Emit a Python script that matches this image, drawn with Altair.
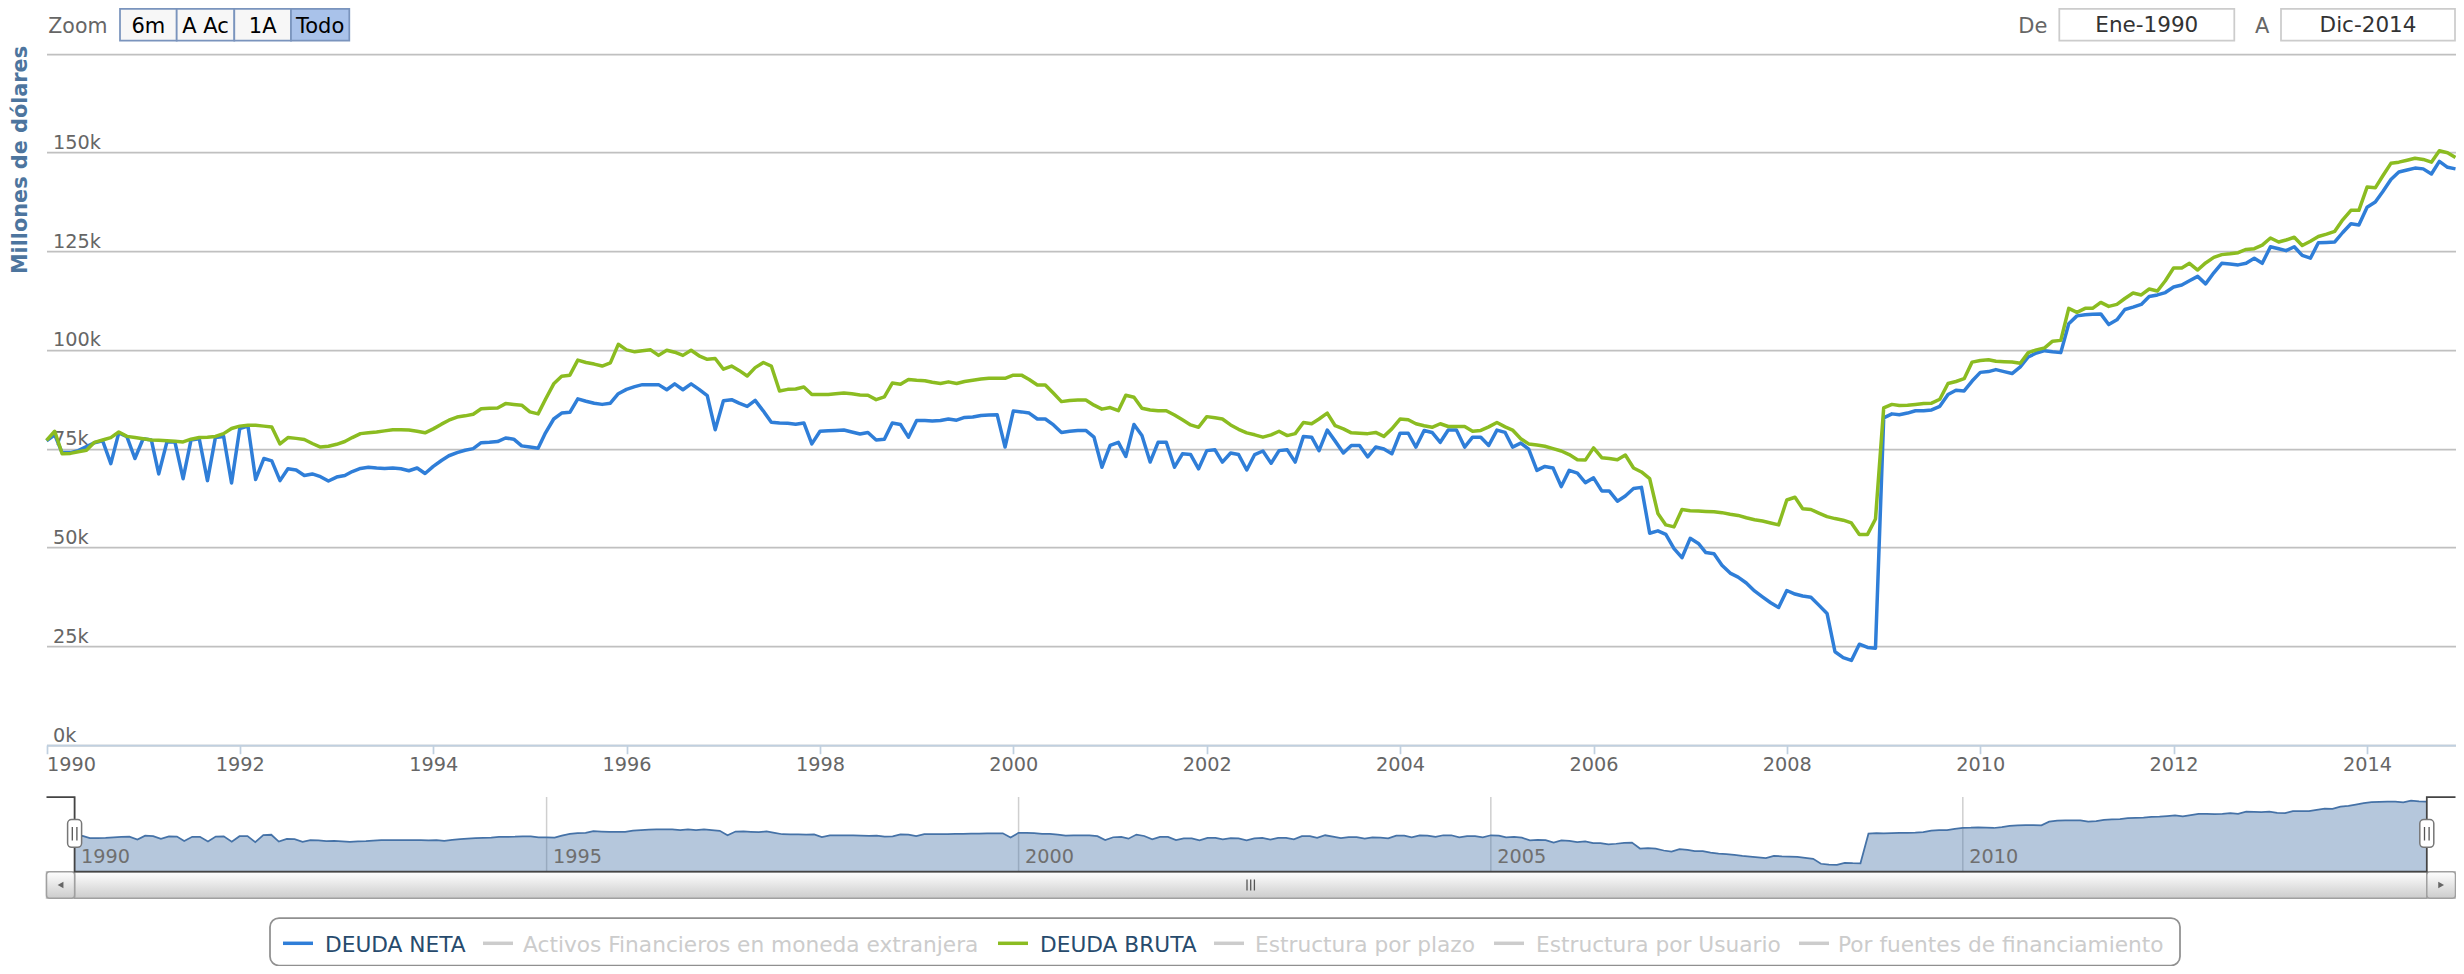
import altair as alt
import pandas as pd

# ---------------- data (miles de millones de dólares, "k") ----------------
inicio = "1990-01-01"
deuda_neta = [
    77.0, 78.5, 74.0, 74.0, 74.5, 75.5, 76.5, 77.0, 71.2, 79.0,
    78.0, 72.5, 77.5, 77.2, 68.6, 76.7, 76.7, 67.4, 77.2, 77.5,
    66.9, 77.8, 78.1, 66.3, 80.1, 80.7, 67.2, 72.5, 71.9, 66.9,
    69.9, 69.6, 68.2, 68.6, 67.9, 66.8, 67.8, 68.2, 69.2, 70.0,
    70.3, 70.1, 70.0, 70.1, 69.9, 69.4, 70.1, 68.7, 70.5, 72.0,
    73.2, 74.0, 74.6, 75.0, 76.5, 76.6, 76.8, 77.7, 77.4, 75.7,
    75.4, 75.1, 79.0, 82.5, 84.0, 84.2, 87.6, 87.0, 86.5, 86.2,
    86.5, 88.9, 90.0, 90.7, 91.2, 91.2, 91.2, 89.9, 91.4, 89.9,
    91.4, 90.0, 88.4, 79.8, 87.1, 87.4, 86.5, 85.7, 87.2, 84.5,
    81.7, 81.5, 81.4, 81.2, 81.5, 76.2, 79.4, 79.5, 79.6, 79.7,
    79.2, 78.7, 79.1, 77.2, 77.4, 81.5, 81.1, 77.9, 82.1, 82.1,
    82.0, 82.1, 82.5, 82.2, 82.9, 83.0, 83.4, 83.5, 83.6, 75.4,
    84.5, 84.3, 84.0, 82.5, 82.5, 81.0, 79.1, 79.4, 79.6, 79.6,
    77.9, 70.3, 75.8, 76.6, 73.0, 81.1, 78.3, 71.6, 76.6, 76.6,
    70.3, 73.7, 73.5, 69.9, 74.5, 74.7, 71.6, 73.9, 73.5, 69.6,
    73.5, 74.4, 71.3, 74.5, 74.7, 71.6, 78.1, 77.9, 74.5, 79.7,
    76.9, 73.9, 75.8, 75.8, 72.9, 75.4, 74.9, 73.7, 78.9, 78.9,
    75.4, 79.6, 79.1, 76.6, 79.7, 79.7, 75.4, 77.9, 77.9, 75.8,
    79.7, 79.1, 75.4, 76.4, 74.9, 69.5, 70.5, 70.1, 65.4, 69.5,
    68.8, 66.4, 67.6, 64.3, 64.3, 61.7, 63.0, 64.9, 65.2, 53.6,
    54.2, 53.3, 49.7, 47.4, 52.3, 51.0, 48.7, 48.4, 45.5, 43.5,
    42.5, 41.0, 39.0, 37.5, 36.0, 34.8, 39.1, 38.2, 37.7, 37.4,
    35.4, 33.3, 23.6, 22.1, 21.4, 25.5, 24.7, 24.5, 82.8, 83.8,
    83.6, 84.0, 84.6, 84.6, 84.8, 85.7, 88.7, 89.8, 89.6, 92.1,
    94.3, 94.5, 95.0, 94.5, 94.0, 95.7, 98.2, 99.2, 99.8, 99.5,
    99.3, 106.6, 108.6, 108.9, 109.0, 109.1, 106.4, 107.6, 110.2, 110.8,
    111.5, 113.5, 113.9, 114.5, 115.9, 116.4, 117.5, 118.6, 116.7, 119.5,
    121.9, 121.7, 121.5, 121.9, 123.2, 121.9, 126.1, 125.6, 125.1, 126.1,
    123.9, 123.2, 127.1, 127.2, 127.3, 129.7, 131.9, 131.6, 136.1, 137.4,
    140.0, 143.1, 145.0, 145.5, 146.0, 145.8, 144.5, 147.7, 146.2, 145.8,
]
deuda_bruta = [
    77.1, 79.4, 73.7, 73.8, 74.2, 74.6, 76.6, 77.2, 77.8, 79.2,
    78.1, 77.8, 77.5, 77.2, 77.1, 77.0, 76.9, 76.7, 77.4, 77.8,
    77.9, 78.1, 78.8, 80.1, 80.7, 80.9, 80.9, 80.7, 80.5, 76.2,
    77.8, 77.6, 77.3, 76.3, 75.4, 75.6, 76.1, 76.8, 77.8, 78.8,
    79.0, 79.2, 79.5, 79.8, 79.8, 79.7, 79.4, 79.0, 80.0, 81.2,
    82.2, 83.0, 83.3, 83.7, 85.1, 85.2, 85.3, 86.4, 86.2, 86.0,
    84.3, 83.8, 87.5, 91.4, 93.3, 93.6, 97.4, 96.8, 96.4, 95.9,
    96.7, 101.4, 100.0, 99.5, 99.8, 100.0, 98.6, 99.9, 99.4, 98.6,
    99.9, 98.5, 97.6, 97.8, 95.1, 95.9, 94.8, 93.4, 95.5, 96.8,
    95.9, 89.6, 90.0, 90.1, 90.6, 88.7, 88.7, 88.7, 88.9, 89.1,
    88.9, 88.6, 88.5, 87.4, 88.1, 91.6, 91.3, 92.5, 92.3, 92.2,
    91.8, 91.5, 91.9, 91.5, 92.0, 92.3, 92.6, 92.8, 92.8, 92.8,
    93.6, 93.6, 92.5, 91.1, 91.1, 89.0, 86.9, 87.2, 87.3, 87.3,
    86.0, 85.0, 85.4, 84.6, 88.5, 88.0, 85.2, 84.8, 84.6, 84.6,
    83.5, 82.3, 81.0, 80.4, 83.1, 82.8, 82.5, 81.0, 79.9, 79.0,
    78.5, 77.9, 78.5, 79.4, 78.3, 78.8, 81.6, 81.3, 82.5, 84.0,
    80.8, 80.0, 79.0, 78.9, 78.8, 79.1, 78.1, 80.0, 82.5, 82.3,
    81.3, 80.8, 80.4, 81.3, 80.6, 80.6, 80.6, 79.4, 79.6, 80.5,
    81.6, 80.5, 79.7, 77.5, 76.2, 75.9, 75.6, 75.0, 74.4, 73.5,
    72.2, 72.1, 75.2, 72.7, 72.5, 72.2, 73.4, 70.1, 69.1, 67.4,
    58.6, 55.7, 55.2, 59.6, 59.3, 59.2, 59.1, 59.0, 58.8, 58.4,
    58.1, 57.5, 57.0, 56.7, 56.2, 55.7, 62.0, 62.7, 59.8, 59.6,
    58.7, 57.8, 57.3, 56.9, 56.2, 53.3, 53.3, 57.2, 85.3, 86.2,
    85.9, 86.0, 86.2, 86.4, 86.5, 87.5, 91.5, 92.0, 92.7, 96.9,
    97.3, 97.5, 97.1, 97.0, 96.9, 96.6, 99.3, 100.0, 100.5, 102.2,
    102.4, 110.5, 109.5, 110.5, 110.5, 112.0, 111.0, 111.5, 113.0, 114.4,
    113.9, 115.4, 114.9, 117.5, 120.7, 120.7, 121.9, 120.2, 122.0, 123.4,
    124.1, 124.3, 124.6, 125.4, 125.6, 126.5, 128.3, 127.3, 127.8, 128.5,
    126.4, 127.5, 128.7, 129.3, 130.0, 132.9, 135.3, 135.3, 141.2, 141.0,
    144.0, 147.2, 147.5, 148.0, 148.5, 148.2, 147.5, 150.4, 149.9, 148.7,
]
tick_years = list(range(1990, 2016, 2))
nav_years = [1990, 1995, 2000, 2005, 2010]
y_ticks_k = [0, 25, 50, 75, 100, 125, 150, 175]
zoom_buttons = ["6m", "A Ac", "1A", "Todo"]
zoom_selected = [False, False, False, True]
fecha_de, fecha_a = "Ene-1990", "Dic-2014"
y_title = "Millones de dólares"
legend_names = ["DEUDA NETA", "Activos Financieros en moneda extranjera", "DEUDA BRUTA",
                "Estructura por plazo", "Estructura por Usuario", "Por fuentes de financiamiento"]
legend_visible = [True, False, True, False, False, False]
legend_colors = ["#2f7ed8", "#cccccc", "#8bbc21", "#cccccc", "#cccccc", "#cccccc"]

# ---------------- layout (page pixels) ----------------
W, H = 2448, 958
M = 8
def p(v):
    return v - M

FONT = "DejaVu Sans"
PLOT_L, PLOT_R, PLOT_B, PLOT_T = 46.5, 2455.5, 745.0, 53.5
NAV_L, NAV_R, NAV_T, NAV_B = 74.6, 2426.8, 797.0, 871.7
SB_B = 898.3

fechas = pd.date_range(inicio, periods=len(deuda_neta), freq="MS").strftime("%Y-%m-%dT00:00:00")
df = pd.DataFrame({
    "fecha": fechas,
    "neta": [v * 1000 for v in deuda_neta],
    "bruta": [v * 1000 for v in deuda_bruta],
})

t0 = alt.DateTime(year=1990, month=1, date=1)
t1 = alt.DateTime(year=2014, month=12, date=1)

xs = alt.Scale(domain=[t0, t1], range=[p(PLOT_L), p(PLOT_R)])
ys = alt.Scale(domain=[0, 175000], range=[p(PLOT_B), p(PLOT_T)], zero=False, nice=False)

xaxis = alt.Axis(
    orient="bottom", offset=p(PLOT_B) - H,
    values=[alt.DateTime(year=y, month=1, date=1) for y in tick_years],
    format="%Y", labelFlush=True, labelAngle=0, labelOverlap=False,
    labelColor="#666666", labelFont=FONT, labelFontSize=19.25,
    labelBaseline="alphabetic", labelPadding=17,
    tickSize=8.75, tickColor="#C0D0E0", tickWidth=1.75,
    domainColor="#C0D0E0", domainWidth=1.75, grid=False, title=None, zindex=1,
)
yaxis = alt.Axis(
    orient="left", offset=-p(PLOT_L),
    values=[v * 1000 for v in y_ticks_k],
    labelExpr="datum.value >= 175000 ? '' : format(datum.value / 1000, 'd') + 'k'",
    labelAlign="left", labelBaseline="alphabetic", labelOffset=-4, labelPadding=-6,
    labelOverlap=False, ticks=False, tickSize=0, domain=False,
    grid=True, gridColor="#C0C0C0", gridWidth=1.75,
    labelColor="#666666", labelFont=FONT, labelFontSize=19.25, title=None,
)

line_blue = alt.Chart(df).mark_line(color="#2f7ed8", strokeWidth=3.5, strokeJoin="round").encode(
    x=alt.X("fecha:T", scale=xs, axis=xaxis),
    y=alt.Y("neta:Q", scale=ys, axis=yaxis),
)
line_green = alt.Chart(df).mark_line(color="#8bbc21", strokeWidth=3.5, strokeJoin="round").encode(
    x=alt.X("fecha:T", scale=xs, axis=xaxis),
    y=alt.Y("bruta:Q", scale=ys, axis=yaxis),
)
main = alt.layer(line_blue, line_green)

# ---------------- navigator ----------------
nxs = alt.Scale(domain=[t0, t1], range=[p(NAV_L), p(NAV_R)])
nys = alt.Scale(domain=[8000, 155000], range=[p(NAV_B), p(NAV_T)], zero=False, nice=False)
nav_df = pd.DataFrame({"fecha": [f"{y}-01-01T00:00:00" for y in nav_years],
                       "label": [str(y) for y in nav_years]})
nav_grid = alt.Chart(nav_df).mark_rule(color="#cfcfcf", strokeWidth=1.5).encode(
    x=alt.X("fecha:T", scale=nxs, axis=None),
    y=alt.value(p(NAV_T)), y2=alt.value(p(NAV_B)),
)
nav_area = alt.Chart(df).mark_area(color="#4572A7", fillOpacity=0.4).encode(
    x=alt.X("fecha:T", scale=nxs, axis=None),
    y=alt.Y("neta:Q", scale=nys, axis=None),
    y2=alt.value(p(NAV_B)),
)
nav_line = alt.Chart(df).mark_line(color="#4572A7", strokeWidth=1.75).encode(
    x=alt.X("fecha:T", scale=nxs, axis=None),
    y=alt.Y("neta:Q", scale=nys, axis=None),
)
nav_text = alt.Chart(nav_df).mark_text(align="left", baseline="alphabetic", dx=6.5,
                                       font=FONT, fontSize=19.25, color="#6f6f6f").encode(
    x=alt.X("fecha:T", scale=nxs, axis=None),
    y=alt.value(p(863.3)),
    text="label:N",
)
nav = alt.layer(nav_grid, nav_area, nav_line, nav_text)

def grad(c0, c1):
    return alt.LinearGradient(gradient="linear", x1=0, x2=0, y1=0, y2=1,
                              stops=[alt.GradientStop(color=c0, offset=0),
                                     alt.GradientStop(color=c1, offset=1)])

def rect_df(x1, x2):
    return pd.DataFrame({"x1": [p(v) for v in x1], "x2": [p(v) for v in x2]})

def rect_layer(data, y1, y2, **kw):
    return alt.Chart(data).mark_rect(**kw).encode(
        x=alt.X("x1:Q", scale=None, axis=None), x2="x2:Q",
        y=alt.value(p(y1)), y2=alt.value(p(y2)),
    )

# scrollbar
sb_track = rect_layer(rect_df([PLOT_L], [PLOT_R]), NAV_B, SB_B,
                      fill=grad("#eeeeee", "#ffffff"), stroke="#cccccc", strokeWidth=1.5)
sb_thumb = rect_layer(rect_df([NAV_L], [NAV_R]), NAV_B, SB_B,
                      fill=grad("#ffffff", "#cccccc"), stroke="#a0a0a0", strokeWidth=1.5)
sb_buttons = rect_layer(rect_df([PLOT_L, NAV_R], [NAV_L, PLOT_R]), NAV_B, SB_B,
                        fill=grad("#ffffff", "#cccccc"), stroke="#a0a0a0", strokeWidth=1.5,
                        cornerRadius=3)
arrow_df = pd.DataFrame({"x": [p((PLOT_L + NAV_L) / 2), p((NAV_R + PLOT_R) / 2)],
                         "shape": ["triangle-left", "triangle-right"]})
sb_arrows = alt.Chart(arrow_df).mark_point(filled=True, size=45, color="#666666", opacity=1).encode(
    x=alt.X("x:Q", scale=None, axis=None),
    y=alt.value(p(885)),
    shape=alt.Shape("shape:N", scale=None, legend=None),
)
cxg = (NAV_L + NAV_R) / 2
grip_df = pd.DataFrame({"x": [p(cxg - 3.7), p(cxg), p(cxg + 3.7)]})
sb_grip = alt.Chart(grip_df).mark_rule(color="#555555", strokeWidth=1.3).encode(
    x=alt.X("x:Q", scale=None, axis=None), y=alt.value(p(879.5)), y2=alt.value(p(890.5)),
)

# navigator outline
outline_df = pd.DataFrame({
    "x": [p(v) for v in [PLOT_L, NAV_L, NAV_L, NAV_R, NAV_R, PLOT_R]],
    "y": [p(v) for v in [NAV_T, NAV_T, NAV_B, NAV_B, NAV_T, NAV_T]],
    "o": list(range(6)),
})
outline = alt.Chart(outline_df).mark_line(color="#444444", strokeWidth=1.75).encode(
    x=alt.X("x:Q", scale=None, axis=None), y=alt.Y("y:Q", scale=None, axis=None), order="o:Q",
)
handles = rect_layer(rect_df([NAV_L - 7, NAV_R - 7], [NAV_L + 7, NAV_R + 7]), 819.5, 847.3,
                     fill="#ffffff", stroke="#777777", strokeWidth=1.5, cornerRadius=4)
hl_df = pd.DataFrame({"x": [p(v) for v in [NAV_L - 2.3, NAV_L + 2.3, NAV_R - 2.3, NAV_R + 2.3]]})
handle_lines = alt.Chart(hl_df).mark_rule(color="#555555", strokeWidth=1.3).encode(
    x=alt.X("x:Q", scale=None, axis=None), y=alt.value(p(827)), y2=alt.value(p(840.5)),
)

# ---------------- header: zoom buttons & date inputs ----------------
btn_x1 = [120, 176.7, 234.3, 291]
btn_x2 = [176.7, 234.3, 291, 349.3]
btn_df = pd.DataFrame({
    "x1": [p(v) for v in btn_x1], "x2": [p(v) for v in btn_x2],
    "xc": [p((a + b) / 2) for a, b in zip(btn_x1, btn_x2)],
    "label": zoom_buttons,
    "fill": ["#a9c2ea" if s else "#f7f7f7" for s in zoom_selected],
})
btn_rect = alt.Chart(btn_df).mark_rect(stroke="#7a94bd", strokeWidth=1.75).encode(
    x=alt.X("x1:Q", scale=None, axis=None), x2="x2:Q",
    y=alt.value(p(8.8)), y2=alt.value(p(40.5)),
    fill=alt.Fill("fill:N", scale=None, legend=None),
)
btn_text = alt.Chart(btn_df).mark_text(align="center", baseline="alphabetic", font=FONT,
                                       fontSize=21, color="#000000").encode(
    x=alt.X("xc:Q", scale=None, axis=None), y=alt.value(p(32.5)), text="label:N",
)
lbl_df = pd.DataFrame({"x": [p(48.3), p(2018.3), p(2255)], "t": ["Zoom", "De", "A"],
                       "s": [20.5, 21, 21]})
hdr_labels = alt.Chart(lbl_df).mark_text(align="left", baseline="alphabetic", font=FONT,
                                         color="#666666").encode(
    x=alt.X("x:Q", scale=None, axis=None), y=alt.value(p(32.5)), text="t:N",
    size=alt.Size("s:Q", scale=None, legend=None),
)
date_x1 = [2059.3, 2281]
date_x2 = [2234.3, 2455]
date_df = pd.DataFrame({
    "x1": [p(v) for v in date_x1], "x2": [p(v) for v in date_x2],
    "xc": [p((a + b) / 2) for a, b in zip(date_x1, date_x2)],
    "t": [fecha_de, fecha_a],
})
date_rect = alt.Chart(date_df).mark_rect(fill="#ffffff", stroke="#cccccc", strokeWidth=1.75).encode(
    x=alt.X("x1:Q", scale=None, axis=None), x2="x2:Q",
    y=alt.value(p(8.8)), y2=alt.value(p(40.5)),
)
date_text = alt.Chart(date_df).mark_text(align="center", baseline="alphabetic", font=FONT,
                                         fontSize=21.5, color="#333333").encode(
    x=alt.X("xc:Q", scale=None, axis=None), y=alt.value(p(32)), text="t:N",
)

# y axis title
ytitle = alt.Chart(pd.DataFrame({"t": [y_title]})).mark_text(
    angle=270, align="center", baseline="middle", font=FONT, fontSize=20.8,
    fontWeight="bold", color="#4d759e",
).encode(x=alt.value(p(21)), y=alt.value(p(160)), text="t:N")

# ---------------- legend ----------------
sym_x1 = [283, 483, 998, 1214, 1494, 1799]
text_x = [325, 523, 1040, 1255, 1536, 1838]
leg_df = pd.DataFrame({
    "name": legend_names,
    "sx1": [p(v) for v in sym_x1], "sx2": [p(v + 30) for v in sym_x1],
    "tx": [p(v) for v in text_x],
    "sc": legend_colors,
    "tc": ["#274b6d" if v else "#cccccc" for v in legend_visible],
})
leg_box = rect_layer(rect_df([270], [2180]), 918, 965.5,
                     fill="#ffffff", stroke="#909090", strokeWidth=1.75, cornerRadius=9)
leg_sym = alt.Chart(leg_df).mark_rule(strokeWidth=3.5, strokeCap="butt").encode(
    x=alt.X("sx1:Q", scale=None, axis=None), x2="sx2:Q", y=alt.value(p(943.3)),
    color=alt.Color("sc:N", scale=None, legend=None),
)
leg_text = alt.Chart(leg_df).mark_text(align="left", baseline="alphabetic", font=FONT,
                                       fontSize=21.7).encode(
    x=alt.X("tx:Q", scale=None, axis=None), y=alt.value(p(951.7)), text="name:N",
    color=alt.Color("tc:N", scale=None, legend=None),
)

chart = alt.layer(
    main, nav,
    sb_track, sb_thumb, sb_buttons, sb_arrows, sb_grip, outline, handles, handle_lines,
    btn_rect, btn_text, hdr_labels, date_rect, date_text, ytitle,
    leg_box, leg_sym, leg_text,
).resolve_scale(x="independent", y="independent").properties(
    width=W, height=H, autosize=alt.AutoSizeParams(type="none"), padding=0,
).configure_view(stroke=None)

chart.save("out.html", embed_options={"renderer": "svg", "actions": False})
